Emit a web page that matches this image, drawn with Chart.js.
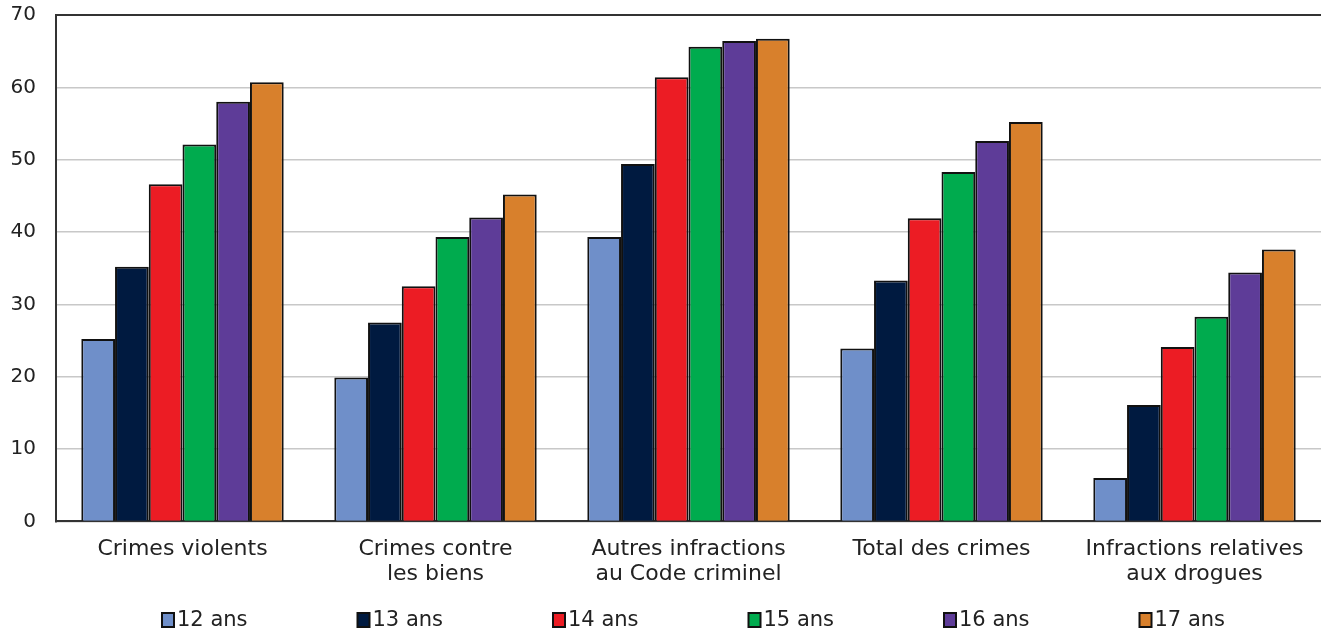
<!DOCTYPE html>
<html>
<head>
<meta charset="utf-8">
<script src="https://cdn.jsdelivr.net/npm/chart.js@4/dist/chart.umd.min.js"></script>
<style>
  html, body { margin: 0; padding: 0; background: #fff; }
  #wrap { width: 1321px; height: 630px; }
</style>
</head>
<body>
<div id="wrap"><canvas id="crime-chart"></canvas></div>
<script>
// Catégories et séries
const categories = [
  ['Crimes violents'],
  ['Crimes contre', 'les biens'],
  ['Autres infractions', 'au Code criminel'],
  ['Total des crimes'],
  ['Infractions relatives', 'aux drogues']
];
const ageLabels = ['12 ans', '13 ans', '14 ans', '15 ans', '16 ans', '17 ans'];
const ans12 = [25.2, 19.9, 39.3, 23.9, 6.0];
const ans13 = [35.2, 27.5, 49.4, 33.3, 16.1];
const ans14 = [46.6, 32.5, 61.4, 41.9, 24.1];
const ans15 = [52.1, 39.3, 65.6, 48.3, 28.3];
const ans16 = [58.0, 42.0, 66.4, 52.6, 34.4];
const ans17 = [60.7, 45.2, 66.7, 55.2, 37.6];
const yTicks = [0, 10, 20, 30, 40, 50, 60, 70];

const colors = ['#6f8fc9', '#001a40', '#ec1c24', '#00ab4e', '#5e3c98', '#d8802c'];
const series = [ans12, ans13, ans14, ans15, ans16, ans17];

const FONT = 'Verdana, "DejaVu Sans", sans-serif';

// Légende dessinée à la main (espacement régulier comme l'original)
const bottomLegend = {
  id: 'bottomLegend',
  afterDraw(chart) {
    const ctx = chart.ctx;
    const y = 620;
    ctx.save();
    ctx.font = '21px ' + FONT;
    ctx.textBaseline = 'middle';
    chart.data.datasets.forEach((ds, i) => {
      const x = 162 + i * 195.5;
      ctx.fillStyle = ds.backgroundColor;
      ctx.fillRect(x, y - 7, 12, 14);
      ctx.strokeStyle = '#111';
      ctx.lineWidth = 2;
      ctx.strokeRect(x, y - 7, 12, 14);
      ctx.fillStyle = '#222';
      ctx.fillText(ds.label, x + 15, y + 1);
    });
    ctx.restore();
  }
};

const crimeChart = new Chart(document.getElementById('crime-chart'), {
  type: 'bar',
  data: {
    labels: categories,
    datasets: series.map((data, i) => ({
      label: ageLabels[i],
      data: data,
      backgroundColor: colors[i],
      borderColor: '#111',
      borderWidth: 2,
      categoryPercentage: 0.8,
      barPercentage: 1.0
    }))
  },
  options: {
    responsive: true,
    maintainAspectRatio: false,
    animation: false,
    layout: { padding: { top: 15, right: 0, bottom: 28, left: 0 } },
    plugins: {
      legend: { display: false },
      tooltip: { enabled: false }
    },
    scales: {
      x: {
        grid: { display: false, drawTicks: false },
        border: { color: '#333', width: 2 },
        ticks: {
          color: '#222',
          padding: 15,
          maxRotation: 0,
          autoSkip: false,
          font: { family: FONT, size: 22, lineHeight: 1.15 }
        }
      },
      y: {
        min: 0,
        max: 70,
        afterFit(scale) {
          scale.width = 56;
          scale.paddingTop = 0;
          scale.paddingBottom = 0;
        },
        afterBuildTicks(scale) { scale.ticks = yTicks.map(v => ({ value: v })); },
        grid: {
          drawTicks: false,
          color: ctx => ctx.tick && ctx.tick.value === 70 ? '#333' : '#c8c8c8',
          lineWidth: ctx => ctx.tick && ctx.tick.value === 70 ? 2 : 1.5
        },
        border: { color: '#333', width: 2 },
        ticks: {
          color: '#222',
          padding: 20,
          font: { family: FONT, size: 20 }
        }
      }
    }
  },
  plugins: [bottomLegend]
});
</script>
</body>
</html>
